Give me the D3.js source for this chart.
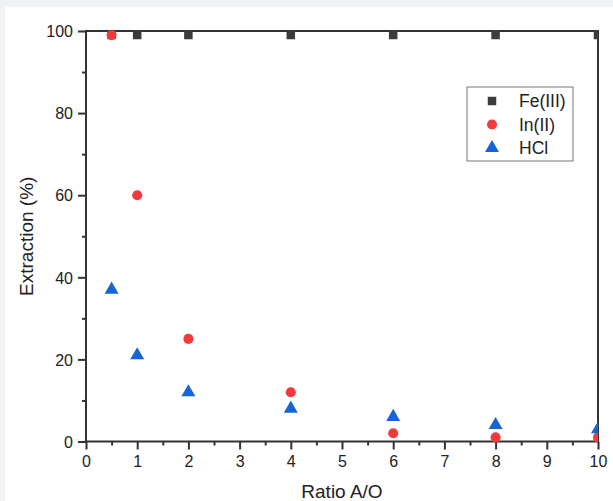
<!DOCTYPE html>
<html>
<head>
<meta charset="utf-8">
<script src="https://cdn.jsdelivr.net/npm/d3@7"></script>
<style>
  body { margin: 0; background: #f1f2f4; }
  svg { display: block; font-family: "Liberation Sans", Arial, sans-serif; }
</style>
</head>
<body>
<svg id="chart"></svg>
<script>
// данные
let ratios = [0.5, 1, 2, 4, 6, 8, 10];
let feValues = [99, 99, 99, 99, 99, 99, 99];
let inValues = [99, 60, 25, 12, 2, 1, 1];
let hclValues = [37, 21, 12, 8, 6, 4, 3];
let xTicks = [0, 1, 2, 3, 4, 5, 6, 7, 8, 9, 10];
let yTicks = [0, 20, 40, 60, 80, 100];
let seriesNames = ["Fe(III)", "In(II)", "HCl"];

let width = 613, height = 501;
let svg = d3.select("#chart").attr("width", width).attr("height", height);

// белая панель
svg.append("rect").attr("x", 5).attr("y", 7).attr("width", width - 5).attr("height", height - 7)
  .attr("fill", "#fefefe");

let plotLeft = 86, plotRight = 598, plotTop = 31, plotBottom = 441.5;
let x = d3.scaleLinear().domain([0, 10]).range([plotLeft, plotRight]);
let y = d3.scaleLinear().domain([0, 100]).range([plotBottom, plotTop]);

let axisColor = "#333";

// клип для точек
svg.append("clipPath").attr("id", "clip").append("rect")
  .attr("x", plotLeft).attr("y", plotTop - 6)
  .attr("width", plotRight - plotLeft).attr("height", plotBottom - plotTop + 12);

// малые деления
let xMinor = d3.range(0.5, 10, 1);
let yMinor = d3.range(10, 100, 20);

let gx = svg.append("g").attr("transform", `translate(0,${plotBottom})`)
  .call(d3.axisBottom(x).tickValues(xMinor).tickSize(4).tickFormat(""));
let gx2 = svg.append("g").attr("transform", `translate(0,${plotBottom})`)
  .call(d3.axisBottom(x).tickValues(xTicks).tickSize(8).tickPadding(6).tickFormat(d3.format("d")));
let gy = svg.append("g").attr("transform", `translate(${plotLeft},0)`)
  .call(d3.axisLeft(y).tickValues(yMinor).tickSize(4).tickFormat(""));
let gy2 = svg.append("g").attr("transform", `translate(${plotLeft},0)`)
  .call(d3.axisLeft(y).tickValues(yTicks).tickSize(8).tickPadding(5).tickFormat(d3.format("d")));

[gx, gx2, gy, gy2].forEach(g => {
  g.select(".domain").remove();
  g.selectAll(".tick line").attr("stroke", axisColor).attr("stroke-width", 2);
  g.selectAll(".tick text").attr("fill", "#222").style("font-size", "16px");
});
gy2.selectAll(".tick text").attr("dy", "0.36em");

// рамка
svg.append("rect").attr("x", plotLeft).attr("y", plotTop)
  .attr("width", plotRight - plotLeft).attr("height", plotBottom - plotTop)
  .attr("fill", "none").attr("stroke", axisColor).attr("stroke-width", 2);

// подписи осей
svg.append("text").attr("x", (plotLeft + plotRight) / 2).attr("y", 498)
  .attr("text-anchor", "middle").style("font-size", "19px").attr("fill", "#222").text("Ratio A/O");
svg.append("text").attr("transform", `translate(33,${(plotTop + plotBottom) / 2}) rotate(-90)`)
  .attr("text-anchor", "middle").style("font-size", "19px").attr("fill", "#222").text("Extraction (%)");

// маркеры
let colors = ["#3c3c3c", "#f23a3c", "#1565d6"];
let symbols = [d3.symbolSquare, d3.symbolCircle, d3.symbolTriangle];
let sizes = [72, 80, 84];

let plot = svg.append("g").attr("clip-path", "url(#clip)");
[feValues, inValues, hclValues].forEach((vals, i) => {
  plot.selectAll(null).data(ratios.map((r, j) => [r, vals[j]])).enter()
    .append("path")
    .attr("transform", d => `translate(${x(d[0])},${y(d[1])})`)
    .attr("d", d3.symbol().type(symbols[i]).size(sizes[i]))
    .attr("fill", colors[i]);
});

// легенда
let legend = svg.append("g").attr("transform", "translate(467,87)");
legend.append("rect").attr("width", 106).attr("height", 74)
  .attr("fill", "#fff").attr("stroke", "#777").attr("stroke-width", 1);
seriesNames.forEach((name, i) => {
  let row = legend.append("g").attr("transform", `translate(0,${14 + i * 23.5})`);
  row.append("path").attr("transform", "translate(25,0)")
    .attr("d", d3.symbol().type(symbols[i]).size(sizes[i])).attr("fill", colors[i]);
  row.append("text").attr("x", 52).attr("dy", "0.36em").style("font-size", "17.5px")
    .attr("fill", "#222").text(name);
});
</script>
</body>
</html>
